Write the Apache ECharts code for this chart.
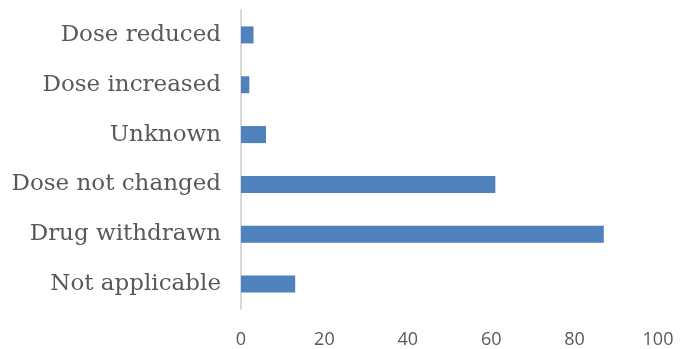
<!DOCTYPE html>
<html>
<head>
<meta charset="utf-8">
<script src="https://cdn.jsdelivr.net/npm/echarts@6/dist/echarts.min.js"></script>
<style>
  html, body { margin: 0; padding: 0; background: #fff; }
  #chart { width: 680px; height: 349px; }
</style>
</head>
<body>
<div id="chart"></div>
<script>
// Categories listed bottom to top (category axis runs upward)
const categories = ['Not applicable', 'Drug withdrawn', 'Dose not changed', 'Unknown', 'Dose increased', 'Dose reduced'];
const counts = [13, 87, 61, 6, 2, 3];
const xTicks = { min: 0, max: 100, interval: 20 };

const chart = echarts.init(document.getElementById('chart'), null, { renderer: 'canvas' });
chart.setOption({
  animation: false,
  grid: { left: 241, right: 22, top: 10, bottom: 39 },
  xAxis: {
    type: 'value',
    min: xTicks.min,
    max: xTicks.max,
    interval: xTicks.interval,
    axisLine: { show: false },
    axisTick: { show: false },
    splitLine: { show: false },
    axisLabel: {
      color: '#595959',
      fontSize: 18,
      fontFamily: 'Open Sans, sans-serif',
      margin: 22
    }
  },
  yAxis: {
    type: 'category',
    data: categories,
    axisLine: { show: true, lineStyle: { color: '#d9d9d9', width: 2 } },
    axisTick: { show: false },
    axisLabel: {
      color: '#595959',
      fontSize: 23,
      fontFamily: 'DejaVu Serif, serif',
      margin: 20
    }
  },
  series: [{
    type: 'bar',
    data: counts,
    barWidth: 17,
    itemStyle: { color: '#4f81bd' }
  }]
});
</script>
</body>
</html>
